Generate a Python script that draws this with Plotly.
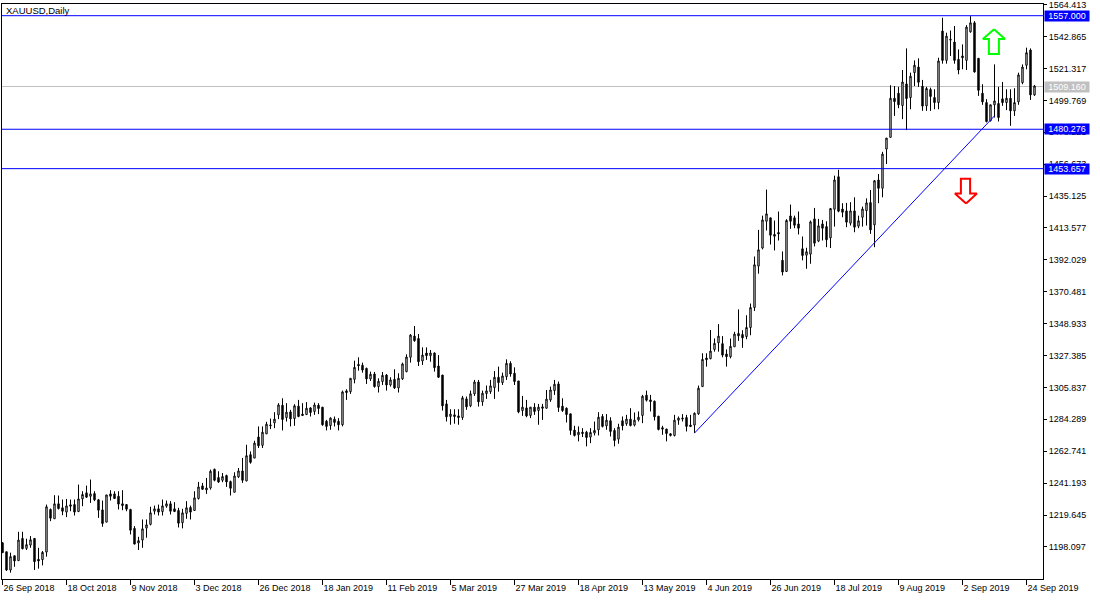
import plotly.graph_objects as go

opens = [1200.9,1194.8,1182.5,1192.1,1188.8,1203.8,1197.1,1199.3,1203.8,1189.7,
1189.5,1194.6,1223.4,1217.1,1227.2,1224.5,1221.6,1226.5,1226.7,1222.0,
1230.5,1234.6,1232.3,1234.1,1229.9,1223.1,1214.8,1233.9,1233.9,1232.3,
1227.2,1226.7,1223.4,1210.6,1200.7,1202.7,1210.8,1213.3,1222.2,1223.8,
1222.0,1225.6,1227.2,1223.8,1222.7,1214.4,1220.7,1224.7,1222.7,1230.8,
1239.3,1236.6,1237.9,1250.5,1244.9,1243.1,1246.3,1242.2,1235.0,1245.4,
1249.4,1242.7,1260.4,1258.1,1272.3,1266.7,1274.5,1279.9,1281.9,1287.3,
1293.8,1285.5,1289.3,1284.8,1293.2,1287.8,1287.5,1292.0,1289.6,1293.8,
1292.5,1283.0,1280.1,1284.4,1283.0,1280.6,1303.5,1303.0,1311.3,1321.4,
1320.8,1318.7,1311.6,1314.9,1306.4,1309.8,1314.2,1307.5,1311.3,1305.5,
1311.6,1316.5,1326.2,1340.5,1338.9,1323.7,1329.1,1327.3,1329.1,1320.3,
1314.2,1294.7,1286.2,1287.3,1286.6,1285.5,1298.1,1293.4,1301.5,1309.5,
1296.1,1301.7,1303.0,1305.7,1312.7,1309.1,1313.1,1322.1,1315.4,1310.2,
1290.2,1292.0,1286.9,1292.5,1290.2,1292.7,1291.8,1297.4,1303.7,1308.2,
1293.2,1291.8,1288.0,1277.0,1273.8,1275.6,1275.6,1272.3,1275.0,1277.2,
1286.2,1279.9,1283.3,1276.8,1270.9,1283.3,1281.3,1284.4,1280.4,1283.9,
1286.9,1300.6,1297.4,1296.5,1286.4,1278.6,1277.7,1274.5,1273.4,1283.7,
1285.1,1285.5,1280.4,1280.4,1288.0,1306.4,1325.7,1325.3,1331.5,1336.0,
1335.4,1328.4,1326.6,1333.3,1342.3,1341.6,1340.2,1346.3,1359.8,1387.8,
1400.0,1418.1,1420.4,1409.2,1410.5,1391.7,1384.2,1421.7,1420.4,1416.3,
1399.5,1395.2,1395.9,1419.7,1404.7,1416.3,1414.5,1406.9,1426.2,1448.2,
1426.4,1425.1,1416.8,1425.1,1414.8,1420.8,1425.3,1430.7,1415.7,1446.0,
1440.4,1466.9,1474.8,1501.2,1504.6,1496.3,1510.9,1501.7,1518.5,1522.3,
1509.3,1496.1,1507.1,1501.7,1498.3,1546.6,1526.8,1540.5,1539.2,1527.5,
1529.8,1526.8,1546.1,1552.2,1528.2,1504.6,1498.3,1486.0,1496.8,1497.7,
1500.8,1498.3,1501.2,1492.7,1498.8,1511.8,1523.5,1533.8,1503.5]

highs = [1200.9,1194.8,1194.2,1192.1,1208.3,1208.3,1203.6,1205.4,1203.8,1197.5,
1195.3,1226.7,1224.0,1233.0,1232.8,1230.1,1230.5,1230.1,1230.1,1240.2,
1235.7,1239.5,1243.6,1235.7,1230.5,1229.4,1233.2,1236.4,1235.7,1235.7,
1236.4,1226.7,1223.8,1212.1,1204.9,1216.6,1216.6,1225.2,1226.0,1226.7,
1230.1,1229.4,1229.0,1228.3,1224.5,1223.8,1229.0,1226.0,1235.7,1242.0,
1241.3,1244.7,1250.3,1251.0,1249.2,1248.0,1246.9,1242.9,1248.5,1251.4,
1258.2,1267.1,1262.6,1269.8,1279.5,1279.5,1282.6,1284.8,1289.1,1295.2,
1298.5,1295.2,1290.7,1294.5,1297.4,1295.2,1295.9,1292.5,1295.6,1295.2,
1292.5,1283.9,1285.7,1286.2,1285.1,1303.7,1304.6,1312.0,1323.9,1326.2,
1322.6,1319.2,1316.5,1316.3,1312.0,1316.3,1314.9,1312.7,1318.1,1315.4,
1322.6,1328.2,1341.9,1347.3,1341.9,1332.9,1332.9,1331.1,1329.5,1327.7,
1314.2,1297.4,1291.1,1291.1,1291.1,1300.1,1299.7,1303.7,1310.9,1310.9,
1303.7,1307.1,1310.9,1316.9,1319.9,1315.8,1324.8,1323.5,1319.4,1310.2,
1300.1,1297.4,1292.5,1295.2,1294.7,1294.7,1304.1,1306.4,1310.9,1309.8,
1298.5,1292.3,1288.0,1279.9,1279.5,1278.3,1276.5,1278.3,1282.8,1289.1,
1287.8,1287.8,1285.7,1278.3,1281.3,1286.2,1287.3,1291.8,1288.9,1289.6,
1300.8,1303.7,1300.8,1297.0,1286.6,1279.9,1277.9,1275.0,1287.3,1286.2,
1287.8,1287.3,1287.3,1288.9,1307.1,1328.9,1328.9,1344.6,1338.9,1348.6,
1340.5,1331.5,1338.9,1343.4,1358.6,1344.5,1354.6,1362.5,1394.3,1412.3,
1421.9,1439.5,1420.4,1418.6,1424.7,1397.7,1419.5,1429.4,1421.9,1424.7,
1407.8,1400.2,1418.6,1427.1,1419.7,1419.0,1418.1,1427.1,1448.9,1452.9,
1430.3,1430.5,1431.0,1434.3,1421.9,1428.0,1433.6,1439.2,1446.0,1450.0,
1465.0,1474.3,1510.0,1509.5,1508.9,1520.3,1534.9,1518.5,1526.8,1528.2,
1513.6,1508.9,1508.4,1507.3,1528.6,1555.6,1545.5,1547.0,1550.0,1534.2,
1537.6,1550.6,1556.7,1553.3,1528.2,1510.7,1500.6,1496.8,1524.1,1508.9,
1512.2,1507.3,1507.3,1508.0,1518.5,1524.1,1535.4,1534.9,1510.2]

lows = [1194.2,1181.8,1180.7,1184.7,1188.8,1196.4,1196.0,1197.5,1182.5,1183.4,
1185.6,1191.5,1215.5,1217.1,1223.4,1219.5,1218.2,1222.2,1219.3,1221.6,
1225.6,1231.2,1227.8,1229.0,1217.7,1211.7,1214.8,1229.4,1230.5,1223.4,
1222.9,1222.2,1206.5,1199.8,1196.0,1197.5,1204.3,1212.6,1220.0,1219.3,
1219.3,1224.5,1220.0,1221.6,1211.2,1210.6,1217.1,1216.6,1222.7,1230.1,
1236.8,1233.9,1236.8,1242.4,1241.3,1241.8,1238.6,1232.8,1235.0,1244.7,
1241.3,1242.4,1254.3,1258.1,1264.9,1264.9,1274.3,1277.7,1278.3,1284.4,
1276.8,1282.8,1279.5,1279.9,1285.7,1286.6,1287.3,1286.2,1287.3,1287.8,
1279.9,1276.8,1277.2,1279.5,1276.8,1279.5,1297.4,1301.5,1308.6,1317.2,
1315.8,1308.2,1310.2,1305.7,1302.4,1307.5,1303.7,1306.4,1304.8,1302.4,
1310.9,1316.1,1322.6,1336.7,1320.3,1321.0,1324.4,1323.2,1316.5,1312.2,
1290.2,1282.8,1280.6,1281.3,1280.6,1283.9,1290.7,1292.5,1300.1,1292.9,
1293.4,1298.1,1301.5,1298.1,1303.0,1307.5,1310.9,1313.1,1307.5,1288.4,
1286.6,1285.7,1285.1,1287.3,1280.6,1283.9,1291.4,1296.1,1300.8,1289.3,
1289.3,1282.2,1273.8,1272.7,1269.4,1272.3,1266.0,1268.2,1273.4,1273.4,
1278.8,1277.2,1272.7,1266.0,1267.8,1276.8,1279.9,1279.5,1279.5,1282.8,
1281.7,1296.3,1289.6,1283.5,1276.8,1273.8,1269.4,1272.7,1272.7,1280.6,
1282.8,1276.1,1279.0,1275.0,1287.3,1306.4,1319.9,1324.8,1330.0,1330.0,
1326.2,1319.9,1325.5,1333.3,1337.3,1332.6,1338.4,1341.1,1357.5,1382.7,
1399.1,1411.9,1402.4,1398.4,1405.1,1381.5,1383.8,1413.0,1413.4,1409.2,
1391.7,1386.0,1389.4,1401.1,1404.0,1405.1,1400.6,1400.0,1414.5,1424.2,
1420.8,1414.1,1415.2,1410.7,1413.4,1414.5,1415.2,1409.6,1400.6,1430.3,
1434.3,1456.8,1474.8,1489.3,1494.5,1487.1,1479.7,1493.8,1509.5,1508.9,
1492.7,1492.7,1492.7,1493.8,1493.8,1524.6,1524.6,1529.8,1524.6,1517.4,
1520.8,1520.3,1545.5,1518.5,1502.8,1496.8,1484.9,1485.5,1488.2,1485.5,
1496.1,1493.2,1482.6,1489.3,1496.8,1510.7,1520.8,1500.1,1502.8]

closes = [1194.2,1182.5,1191.5,1188.6,1202.7,1196.9,1199.6,1202.9,1188.1,1188.6,
1194.4,1225.2,1217.5,1227.2,1224.0,1222.2,1225.8,1225.6,1221.6,1230.5,
1233.5,1231.7,1233.9,1229.9,1222.9,1213.9,1233.2,1232.3,1230.8,1227.0,
1226.0,1223.6,1209.4,1200.0,1202.3,1210.3,1213.0,1221.1,1223.8,1221.6,
1225.8,1227.2,1222.2,1222.0,1214.1,1221.1,1224.5,1221.6,1231.2,1238.6,
1237.0,1237.9,1249.2,1243.1,1242.0,1245.6,1242.0,1237.7,1246.0,1249.4,
1243.1,1259.7,1255.2,1268.2,1266.4,1275.6,1281.0,1280.4,1284.4,1294.0,
1284.2,1289.1,1284.6,1293.4,1286.2,1286.9,1291.8,1288.9,1294.0,1291.6,
1280.6,1279.5,1285.1,1282.2,1280.6,1302.8,1302.4,1312.0,1319.4,1320.5,
1317.6,1311.6,1314.7,1306.4,1310.0,1314.0,1307.5,1310.9,1305.5,1312.0,
1321.7,1326.4,1341.2,1337.4,1323.2,1327.7,1327.3,1329.1,1319.2,1312.7,
1293.4,1286.0,1287.8,1286.2,1285.5,1298.8,1292.7,1301.5,1309.5,1296.1,
1301.9,1303.5,1306.9,1312.7,1309.1,1313.6,1322.1,1314.9,1309.8,1289.3,
1292.5,1286.6,1292.5,1289.6,1292.5,1291.8,1297.9,1304.1,1308.0,1292.3,
1290.2,1287.5,1276.8,1273.4,1275.6,1274.7,1272.0,1275.4,1276.8,1285.7,
1279.5,1283.7,1276.1,1270.0,1279.0,1279.9,1284.4,1280.1,1283.7,1285.7,
1299.9,1297.2,1296.3,1286.0,1277.4,1277.7,1274.7,1273.4,1283.7,1285.1,
1284.6,1279.5,1279.5,1288.4,1305.3,1324.8,1324.6,1330.4,1335.6,1340.5,
1327.7,1326.6,1333.6,1341.9,1340.7,1339.3,1346.3,1359.8,1388.7,1398.8,
1419.0,1423.1,1408.7,1408.0,1409.6,1383.8,1418.6,1418.1,1415.4,1413.4,
1395.0,1397.5,1417.7,1403.3,1415.0,1413.4,1405.6,1426.7,1446.0,1424.9,
1424.2,1417.5,1425.1,1414.1,1418.4,1426.4,1430.5,1412.3,1445.5,1440.4,
1463.5,1474.3,1501.2,1499.0,1496.8,1512.2,1501.0,1516.1,1523.5,1512.0,
1495.9,1507.8,1502.4,1498.3,1526.4,1526.8,1543.2,1541.0,1526.8,1520.3,
1528.6,1549.3,1552.2,1519.0,1506.6,1498.8,1485.5,1496.8,1499.4,1488.2,
1498.3,1501.2,1492.7,1498.3,1517.0,1522.3,1532.0,1503.5,1509.5]

date_ticks = [0, 16, 32, 48, 64, 80, 96, 112, 128, 144, 160, 176, 192, 208, 224, 240, 256]
date_labels = ["26 Sep 2018", "18 Oct 2018", "9 Nov 2018", "3 Dec 2018", "26 Dec 2018",
               "18 Jan 2019", "11 Feb 2019", "5 Mar 2019", "27 Mar 2019", "18 Apr 2019",
               "13 May 2019", "4 Jun 2019", "26 Jun 2019", "18 Jul 2019", "9 Aug 2019",
               "2 Sep 2019", "24 Sep 2019"]
price_ticks = [1564.413, 1542.865, 1521.317, 1499.769, 1478.221, 1456.673, 1435.125, 1413.577,
               1392.029, 1370.481, 1348.933, 1327.385, 1305.837, 1284.289, 1262.741, 1241.193,
               1219.645, 1198.097]
blue_levels = [1557.000, 1480.276, 1453.657]
last_price = 1509.160

trend_x = [173, 248]
trend_y = [1275.0, 1489.3]

up_arrow_x = [247.9, 250.6, 249.1, 249.1, 246.6, 246.6, 245.1, 247.9]
up_arrow_y = [1547.9, 1541.2, 1541.2, 1531.1, 1531.1, 1541.2, 1541.2, 1547.9]
down_arrow_x = [240.9, 243.6, 241.9, 241.9, 239.6, 239.6, 238.1, 240.9]
down_arrow_y = [1430.1, 1436.8, 1436.8, 1446.9, 1446.9, 1436.8, 1436.8, 1430.1]

BLUE = "#0000FF"
FONT = "Liberation Sans"
bars = list(range(len(opens)))

fig = go.Figure()
fig.add_trace(go.Candlestick(
    x=bars, open=opens, high=highs, low=lows, close=closes,
    whiskerwidth=0,
    increasing=dict(line=dict(color="black", width=1), fillcolor="white"),
    decreasing=dict(line=dict(color="black", width=1), fillcolor="black"),
    showlegend=False,
))
fig.add_trace(go.Scatter(x=trend_x, y=trend_y, mode="lines",
                         line=dict(color=BLUE, width=1), showlegend=False))
fig.add_trace(go.Scatter(x=up_arrow_x, y=up_arrow_y, mode="lines",
                         line=dict(color="#00FF00", width=2), showlegend=False))
fig.add_trace(go.Scatter(x=down_arrow_x, y=down_arrow_y, mode="lines",
                         line=dict(color="#FF0000", width=2), showlegend=False))

shapes = [dict(type="line", xref="paper", x0=0, x1=1, yref="y", y0=last_price, y1=last_price,
               layer="below", line=dict(color="#C0C0C0", width=1))]
for lv in blue_levels:
    shapes.append(dict(type="line", xref="paper", x0=0, x1=1, yref="y", y0=lv, y1=lv,
                       layer="above", line=dict(color=BLUE, width=1)))

annotations = [dict(text="XAUUSD,Daily", xref="paper", yref="paper", x=0, y=1, xanchor="left",
                    yanchor="top", xshift=2, yshift=1, showarrow=False,
                    font=dict(family=FONT, size=9.5, color="black"))]
for lv, bg in [(v, BLUE) for v in blue_levels] + [(last_price, "#C0C0C0")]:
    annotations.append(dict(text=f"{lv:.3f}", xref="paper", yref="y", x=1, y=lv, xanchor="left",
                            yanchor="middle", xshift=1, showarrow=False, bgcolor=bg, width=44,
                            height=10, borderpad=0, align="center",
                            font=dict(family=FONT, size=9, color="white")))

fig.update_layout(
    width=1100, height=600, autosize=False,
    margin=dict(l=2, r=57, t=0, b=21, pad=0),
    paper_bgcolor="white", plot_bgcolor="white",
    font=dict(family=FONT, size=9, color="black"),
    shapes=shapes, annotations=annotations, hovermode=False, boxgap=0.5,
    xaxis=dict(range=[-0.125, 260.125], rangeslider=dict(visible=False), showgrid=False,
               zeroline=False, tickmode="array", tickvals=date_ticks, ticktext=date_labels,
               ticks="outside", ticklen=5, tickwidth=1, tickcolor="black", showline=True,
               linecolor="black", linewidth=1, mirror=True, ticklabelposition="outside right",
               ticklabeloverflow="allow", tickangle=0,
               tickfont=dict(family=FONT, size=9, color="black")),
    yaxis=dict(range=[1176.4, 1564.9], side="right", showgrid=False, zeroline=False,
               tickmode="array", tickvals=price_ticks, ticktext=[f"{v:.3f}" for v in price_ticks],
               ticks="outside", ticklen=3, tickwidth=1, tickcolor="black", showline=True,
               linecolor="black", linewidth=1, mirror=True, ticklabeloverflow="allow",
               tickfont=dict(family=FONT, size=9, color="black")),
)
fig.write_html("out.html", config=dict(displayModeBar=False),
               post_script="document.body.style.margin='0';")
